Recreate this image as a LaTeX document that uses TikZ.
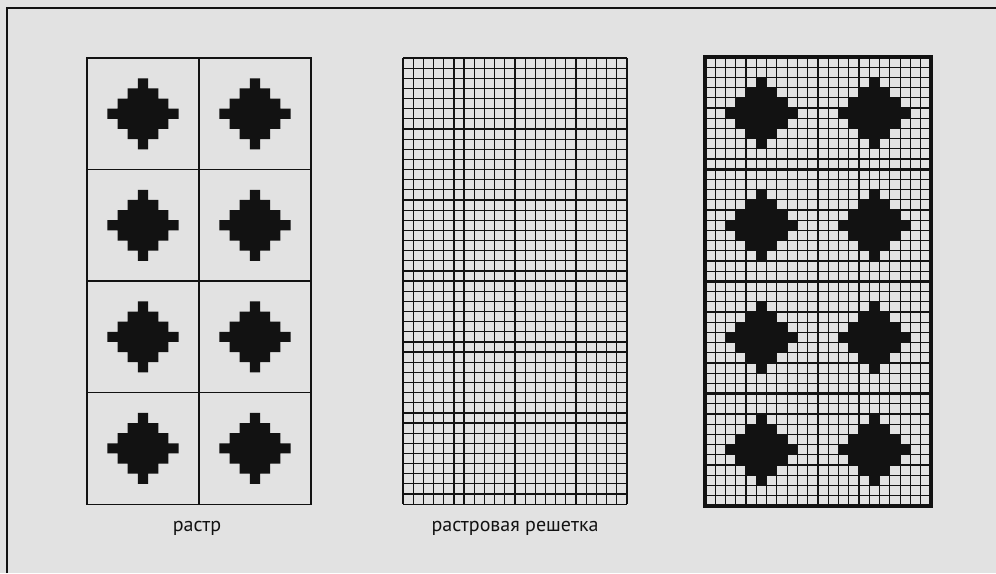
\documentclass[tikz,border=0pt]{standalone}
\usepackage{fontspec}
\setmainfont{PT Sans}
\usepackage{xcolor}
\definecolor{paper}{RGB}{226,226,226}
\definecolor{ink}{RGB}{18,18,18}
\usetikzlibrary{positioning}

\tikzset{
  frameline/.style={ink, line width=1.6pt},
  thinline/.style={ink, line width=1.2pt},
  cellline/.style={ink, line width=2.8pt},
  outline/.style={ink, line width=3.6pt},
  pix/.style={fill=ink},
  caption/.style={font=\fontsize{20}{24}\selectfont, text=ink, inner sep=0pt, anchor=base},
}

% stepped diamond, 7x7 pixels, in an 11x11 cell whose corner is (#1,#2)
\newcommand{\pixdiamond}[2]{%
  \fill[pix, shift={(#1,#2)}] (5,2) -- (6,2) -- (6,3) -- (7,3) -- (7,4) -- (8,4) -- (8,5)
    -- (9,5) -- (9,6) -- (8,6) -- (8,7) -- (7,7) -- (7,8) -- (6,8) -- (6,9) -- (5,9)
    -- (5,8) -- (4,8) -- (4,7) -- (3,7) -- (3,6) -- (2,6) -- (2,5) -- (3,5) -- (3,4)
    -- (4,4) -- (4,3) -- (5,3) -- cycle;
}

\begin{document}
\begin{tikzpicture}[x=1pt, y=-1pt]
    % Page
    \fill[paper] (0,0) rectangle (996,573);
    \useasboundingbox (0,0) rectangle (996,573);
    \draw[frameline] (7,573) -- (7,8) -- (996,8);

    % Raster: 2x4 cells with a diamond each
    \begin{scope}[shift={(87,58)}, x=10.18pt, y=-10.14pt]
        \foreach \cx in {0,11}
            \foreach \cy in {0,11,22,33}
                {\pixdiamond{\cx}{\cy}}
        \draw[thinline] (0,0) rectangle (22,44);
        \draw[thinline] (11,0) -- (11,44);
        \foreach \k in {11,22,33}
            \draw[thinline] (0,\k) -- (22,\k);
    \end{scope}

    % Raster grid: 22x44 pixels
    \begin{scope}[shift={(403,58)}, x=10.18pt, y=-10.14pt]
        \foreach \i in {0,...,22}
            \draw[thinline] (\i,0) -- (\i,44);
        \foreach \j in {0,...,44}
            \draw[thinline] (0,\j) -- (22,\j);
    \end{scope}

    % Raster laid on the grid
    \begin{scope}[shift={(705,57)}, x=10.27pt, y=-10.2pt]
        \foreach \cx in {0,11}
            \foreach \cy in {0,11,22,33}
                {\pixdiamond{\cx}{\cy}}
        \foreach \i in {1,...,21}
            \draw[thinline] (\i,0) -- (\i,44);
        \foreach \j in {1,...,43}
            \draw[thinline] (0,\j) -- (22,\j);
        \draw[cellline] (11,0) -- (11,44);
        \foreach \k in {11,22,33}
            \draw[cellline] (0,\k) -- (22,\k);
        \draw[outline] (0,0) rectangle (22,44);
    \end{scope}

    % Captions
    \node[caption] (lblraster) at (197,531) {растр};
    \node[caption] (lblgrid) at (515,531) {растровая решетка};
\end{tikzpicture}
\end{document}
